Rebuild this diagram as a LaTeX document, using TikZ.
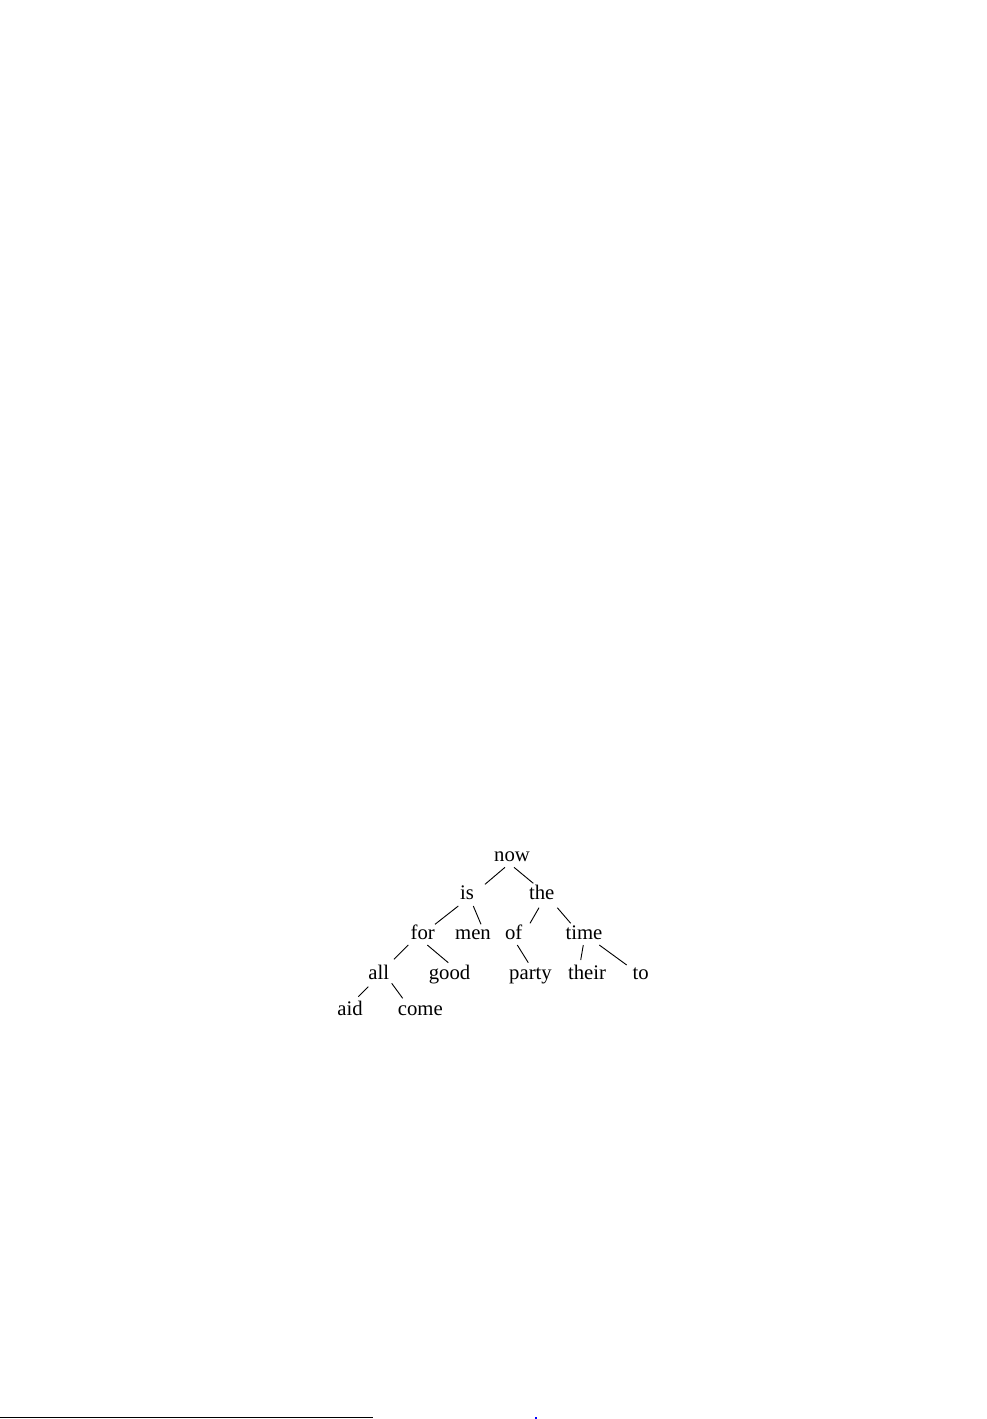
\documentclass[tikz,border=0pt]{standalone}
\usepackage{fontspec}
\setmainfont{Liberation Serif}
\usetikzlibrary{calc}
\begin{document}
\begin{tikzpicture}[x=0.6028pt,y=-0.6028pt,
  word/.style={anchor=base,inner sep=0pt,font=\fontsize{12.5}{14}\selectfont},
  edge/.style={line width=0.55pt}]
\useasboundingbox (0,0) rectangle (987,1419);
\node[word] (now) at (512,861) {now};
\node[word] (is) at (467,899) {is};
\node[word] (the) at (541.7,899) {the};
\node[word] (for) at (422.7,939) {for};
\node[word] (men) at (473,939) {men};
\node[word] (of) at (513.7,939) {of};
\node[word] (time) at (584,939) {time};
\node[word] (all) at (378.7,979.5) {all};
\node[word] (good) at (449.5,979.5) {good};
\node[word] (party) at (530.5,979.5) {party};
\node[word] (their) at (587,979.5) {their};
\node[word] (to) at (640.7,979.5) {to};
\node[word] (aid) at (350,1015.5) {aid};
\node[word] (come) at (420.3,1015.5) {come};
\draw[edge] ($(now.base)+(-7,6.3)$) -- ($(is.base)+(18,-14.7)$);
\draw[edge] ($(now.base)+(2,6.3)$) -- ($(the.base)+(-8.4,-15.7)$);
\draw[edge] ($(is.base)+(-8.7,7)$) -- ($(for.base)+(12.3,-14.7)$);
\draw[edge] ($(is.base)+(6.3,7)$) -- ($(men.base)+(8,-14.7)$);
\draw[edge] ($(the.base)+(-2.7,8.7)$) -- ($(of.base)+(16.3,-15.7)$);
\draw[edge] ($(the.base)+(15.6,8.7)$) -- ($(time.base)+(-13.3,-15.7)$);
\draw[edge] ($(for.base)+(-14.4,6)$) -- ($(all.base)+(15.3,-20.2)$);
\draw[edge] ($(for.base)+(4.6,6)$) -- ($(good.base)+(-1.2,-16.8)$);
\draw[edge] ($(of.base)+(3.6,6)$) -- ($(party.base)+(-2.2,-16.8)$);
\draw[edge] ($(time.base)+(-0.7,6)$) -- ($(their.base)+(-6.3,-19.5)$);
\draw[edge] ($(time.base)+(15.3,6)$) -- ($(to.base)+(-14,-14.5)$);
\draw[edge] ($(all.base)+(-10.4,7.2)$) -- ($(aid.base)+(8.3,-18.8)$);
\draw[edge] ($(all.base)+(13,3.8)$) -- ($(come.base)+(-17.6,-17.2)$);
\coordinate (ruleL) at (0,1417.8);
\coordinate (ruleR) at (373,1417.8);
\draw[line width=0.7pt] (ruleL) -- (ruleR);
\fill[blue] (534.5,1416.5) rectangle (536.5,1418.5);
\end{tikzpicture}
\end{document}
